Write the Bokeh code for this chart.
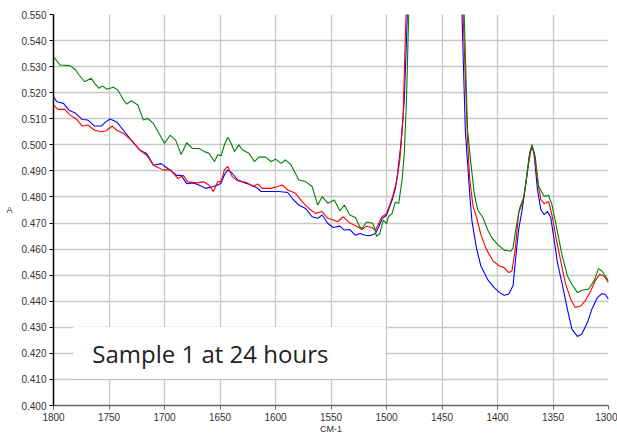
from bokeh.plotting import figure
from bokeh.models import Range1d, NumeralTickFormatter, SingleIntervalTicker, BoxAnnotation, Label
from bokeh.embed import file_html
from bokeh.resources import INLINE

# ---- data (wavenumber cm-1, absorbance) ----
blue_x = [1800, 1797, 1791, 1786, 1780, 1774, 1769, 1763, 1757, 1753, 1749, 1743, 1737, 1730, 1722, 1716,
          1710, 1703, 1697, 1689, 1685, 1680, 1674, 1669, 1663, 1656, 1652, 1649, 1646, 1643, 1639, 1634,
          1628, 1622, 1616, 1613, 1606, 1597, 1589, 1585, 1579, 1573, 1567, 1562, 1558, 1553, 1548, 1542,
          1538, 1533, 1528, 1524, 1519, 1515, 1510, 1507, 1504, 1500, 1495, 1492, 1490, 1487, 1484, 1482,
          1479, 1456, 1434, 1432, 1429, 1425, 1423, 1419, 1415, 1409, 1403, 1398, 1394, 1390, 1386, 1384,
          1381, 1378, 1374, 1371, 1369, 1367, 1364, 1361, 1358, 1355, 1352, 1349, 1346, 1342, 1337, 1333,
          1328, 1324, 1319, 1315, 1310, 1306, 1303, 1300]
blue_y = [0.5185, 0.5165, 0.5159, 0.5133, 0.5121, 0.5097, 0.5095, 0.5072, 0.5072, 0.5088, 0.5099, 0.5088,
          0.5056, 0.5018, 0.4979, 0.4967, 0.4922, 0.4928, 0.4909, 0.4883, 0.4883, 0.4851, 0.4854, 0.4846,
          0.4833, 0.4840, 0.4846, 0.4853, 0.4885, 0.4904, 0.4891, 0.4865, 0.4855, 0.4846, 0.4833, 0.4821,
          0.4821, 0.4821, 0.4817, 0.4795, 0.4769, 0.4756, 0.4724, 0.4718, 0.4731, 0.4699, 0.4683, 0.4688,
          0.4673, 0.4675, 0.4653, 0.4660, 0.4653, 0.4651, 0.4660, 0.4685, 0.4717, 0.4730, 0.4787, 0.4832,
          0.4890, 0.5004, 0.5170, 0.5400, 0.5800, 0.6500, 0.5800, 0.5500, 0.5057, 0.4809, 0.4707, 0.4605,
          0.4535, 0.4484, 0.4452, 0.4433, 0.4423, 0.4427, 0.4459, 0.4548, 0.4675, 0.4745, 0.4866, 0.4968,
          0.4996, 0.4962, 0.4828, 0.4752, 0.4732, 0.4745, 0.4720, 0.4637, 0.4548, 0.4471, 0.4369, 0.4293,
          0.4265, 0.4274, 0.4318, 0.4369, 0.4414, 0.4429, 0.4427, 0.4408]

red_x = [1800, 1796, 1790, 1785, 1779, 1774, 1769, 1763, 1757, 1753, 1747, 1743, 1737, 1730, 1722, 1716,
         1710, 1701, 1695, 1688, 1683, 1679, 1671, 1665, 1660, 1656, 1652, 1649, 1646, 1643, 1639, 1634,
         1626, 1620, 1616, 1612, 1604, 1598, 1594, 1589, 1582, 1576, 1570, 1564, 1558, 1553, 1548, 1544,
         1539, 1533, 1527, 1522, 1518, 1513, 1510, 1507, 1504, 1500, 1495, 1491, 1488, 1485, 1483, 1480,
         1456, 1433, 1431, 1427, 1425, 1422, 1419, 1415, 1410, 1404, 1398, 1394, 1390, 1387, 1384, 1381,
         1377, 1374, 1371, 1369, 1367, 1364, 1361, 1358, 1354, 1351, 1347, 1343, 1339, 1334, 1330, 1325,
         1321, 1316, 1312, 1308, 1304, 1300]
red_y = [0.5153, 0.5136, 0.5136, 0.5114, 0.5097, 0.5072, 0.5076, 0.5056, 0.5050, 0.5053, 0.5072, 0.5056,
         0.5044, 0.5018, 0.4979, 0.4960, 0.4922, 0.4903, 0.4905, 0.4871, 0.4883, 0.4858, 0.4854, 0.4858,
         0.4846, 0.4821, 0.4859, 0.4859, 0.4904, 0.4917, 0.4878, 0.4862, 0.4855, 0.4840, 0.4850, 0.4833,
         0.4833, 0.4840, 0.4846, 0.4827, 0.4814, 0.4782, 0.4756, 0.4737, 0.4744, 0.4718, 0.4712, 0.4705,
         0.4724, 0.4700, 0.4688, 0.4675, 0.4688, 0.4683, 0.4672, 0.4698, 0.4724, 0.4736, 0.4794, 0.4858,
         0.4941, 0.5107, 0.5426, 0.5800, 0.6500, 0.5800, 0.5500, 0.5019, 0.4866, 0.4764, 0.4724, 0.4656,
         0.4599, 0.4554, 0.4535, 0.4529, 0.4510, 0.4516, 0.4599, 0.4739, 0.4783, 0.4866, 0.4968, 0.5000,
         0.4968, 0.4866, 0.4790, 0.4774, 0.4783, 0.4732, 0.4637, 0.4554, 0.4471, 0.4408, 0.4376, 0.4382,
         0.4401, 0.4439, 0.4478, 0.4503, 0.4497, 0.4471]

green_x = [1800, 1794, 1785, 1780, 1777, 1772, 1766, 1763, 1759, 1756, 1752, 1746, 1742, 1737, 1734, 1730,
           1724, 1719, 1715, 1710, 1704, 1700, 1695, 1690, 1685, 1680, 1675, 1669, 1664, 1660, 1655, 1652,
           1649, 1646, 1643, 1640, 1637, 1633, 1630, 1624, 1619, 1615, 1609, 1604, 1600, 1595, 1591, 1586,
           1579, 1573, 1567, 1562, 1558, 1553, 1547, 1542, 1538, 1533, 1528, 1524, 1522, 1518, 1513, 1511,
           1509, 1506, 1503, 1500, 1498, 1495, 1492, 1489, 1488, 1486, 1484, 1482, 1480, 1477, 1456, 1432,
           1430, 1427, 1424, 1421, 1418, 1413, 1409, 1405, 1400, 1394, 1388, 1386, 1384, 1380, 1376, 1373,
           1369, 1366, 1363, 1358, 1354, 1351, 1347, 1342, 1337, 1333, 1328, 1324, 1318, 1313, 1309, 1306,
           1300]
green_y = [0.5338, 0.5306, 0.5304, 0.5287, 0.5268, 0.5242, 0.5255, 0.5236, 0.5217, 0.5226, 0.5213, 0.5221,
           0.5210, 0.5172, 0.5156, 0.5169, 0.5153, 0.5095, 0.5101, 0.5082, 0.5037, 0.5005, 0.5037, 0.5018,
           0.4963, 0.5008, 0.4986, 0.4986, 0.4974, 0.4968, 0.4936, 0.4962, 0.4958, 0.5000, 0.5029, 0.5006,
           0.4974, 0.5000, 0.4981, 0.4968, 0.4936, 0.4953, 0.4953, 0.4936, 0.4945, 0.4929, 0.4942, 0.4923,
           0.4865, 0.4859, 0.4840, 0.4769, 0.4801, 0.4776, 0.4788, 0.4747, 0.4769, 0.4731, 0.4721, 0.4685,
           0.4679, 0.4704, 0.4700, 0.4685, 0.4649, 0.4660, 0.4711, 0.4698, 0.4726, 0.4736, 0.4781, 0.4775,
           0.4806, 0.4864, 0.4966, 0.5170, 0.5500, 0.5800, 0.6500, 0.5800, 0.5500, 0.5057, 0.4930, 0.4815,
           0.4752, 0.4720, 0.4675, 0.4643, 0.4618, 0.4596, 0.4592, 0.4605, 0.4662, 0.4758, 0.4803, 0.4904,
           0.5000, 0.4955, 0.4841, 0.4803, 0.4806, 0.4771, 0.4688, 0.4580, 0.4497, 0.4465, 0.4433, 0.4442,
           0.4446, 0.4478, 0.4525, 0.4516, 0.4478]

x_start, x_end = 1800, 1300
y_start, y_end = 0.400, 0.550
annotation_text = "Sample 1 at 24 hours"
x_label = "CM-1"
y_label = "A"

FONT = "Liberation Sans"

p = figure(width=617, height=436, output_backend="svg", toolbar_location=None,
           x_range=Range1d(x_start, x_end), y_range=Range1d(y_start, y_end),
           min_border_left=53, min_border_top=14, min_border_right=9, min_border_bottom=29)
p.outline_line_color = None
p.background_fill_color = "white"
p.border_fill_color = "white"

# grid
for g in (p.xgrid, p.ygrid):
    g.grid_line_color = "#c8c8c8"
    g.grid_line_width = 1.3
p.xaxis.ticker = SingleIntervalTicker(interval=50, num_minor_ticks=0)
p.yaxis.ticker = SingleIntervalTicker(interval=0.01, num_minor_ticks=0)
p.xgrid.ticker = p.xaxis.ticker
p.ygrid.ticker = p.yaxis.ticker
p.yaxis.formatter = NumeralTickFormatter(format="0.000")

for ax in (p.xaxis, p.yaxis):
    ax.major_label_text_font = FONT
    ax.major_label_text_font_size = "10px"
    ax.major_label_text_color = "#333333"
    ax.axis_label_text_font = FONT
    ax.axis_label_text_font_size = "9px"
    ax.axis_label_text_font_style = "normal"
    ax.axis_label_text_color = "#333333"
    ax.minor_tick_line_color = None
    ax.major_tick_in = 0
    ax.major_tick_out = 4

p.yaxis.axis_line_color = "black"
p.yaxis.axis_line_width = 1.5
p.yaxis.major_tick_line_color = "black"
p.yaxis.major_label_standoff = 3
p.yaxis.axis_label = y_label
p.yaxis.axis_label_orientation = "horizontal"
p.yaxis.axis_label_standoff = 6

p.xaxis.axis_line_color = "#666666"
p.xaxis.axis_line_width = 1.5
p.xaxis.major_tick_line_color = "#666666"
p.xaxis.major_label_standoff = 3
p.xaxis.axis_label = x_label
p.xaxis.axis_label_standoff = 0

# annotation box covering the grid
box = BoxAnnotation(left=1782, right=1501, bottom=0.4103, top=0.4302,
                    fill_color="white", fill_alpha=1.0, line_color=None, level="underlay")
p.add_layout(box)

p.line(blue_x, blue_y, line_color="#0000ff", line_width=1.1)
p.line(red_x, red_y, line_color="#ff0000", line_width=1.1)
p.line(green_x, green_y, line_color="#008000", line_width=1.1)

lbl = Label(x=1765, y=0.4198, text=annotation_text, text_font="Open Sans",
            text_font_size="24px", text_color="#222222", text_baseline="middle", text_align="left")
p.add_layout(lbl)

open("out.html", "w").write(file_html(p, INLINE))
